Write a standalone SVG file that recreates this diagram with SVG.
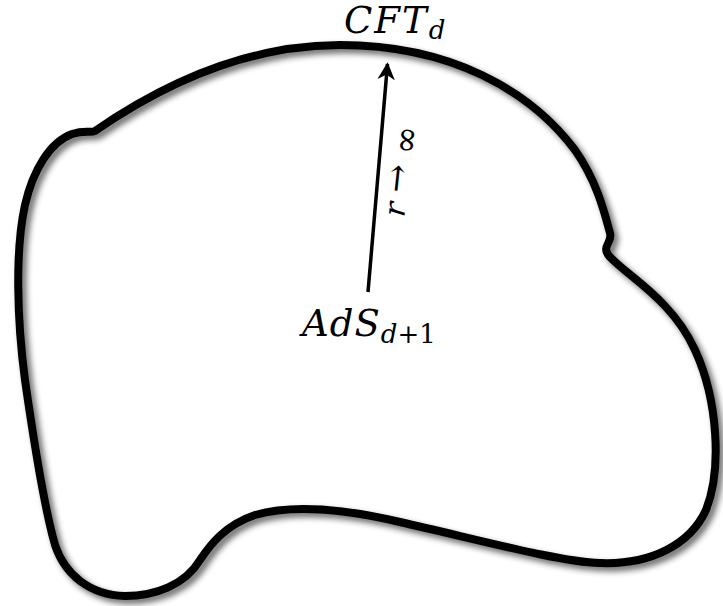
<svg xmlns="http://www.w3.org/2000/svg" width="723" height="606" viewBox="0 0 723 606">
<defs>
<filter id="shadow" x="-10%" y="-10%" width="120%" height="120%">
<feGaussianBlur in="SourceAlpha" stdDeviation="3"/>
<feOffset dx="4" dy="4" result="b"/>
<feComponentTransfer><feFuncA type="linear" slope="0.6"/></feComponentTransfer>
<feMerge><feMergeNode/><feMergeNode in="SourceGraphic"/></feMerge>
</filter>
<marker id="ah" viewBox="0 0 10 10" refX="9" refY="5" markerWidth="5" markerHeight="5" orient="auto" markerUnits="strokeWidth">
<path d="M0,0 L10,5 L0,10 L3,5 Z" fill="#000"/>
</marker>
<style>
.tx{font-family:"DejaVu Serif","Liberation Serif",serif;font-style:italic;fill:#000}
.rm{font-family:"DejaVu Serif","Liberation Serif",serif;font-style:normal;fill:#000}
</style>
</defs>
<rect width="723" height="606" fill="#fff"/>
<g id="boundary" filter="url(#shadow)">
<path d="M95,131 C140,100 230,45 340,45 C450,45 530,90 575,150 C598,183 605,215 610,233 C613,243 600,246 610,257 C630,278 672,300 695,350 C718,400 722,470 706,510 C690,545 650,565 600,563 C560,562 480,540 400,522 C340,508 290,505 255,515 C225,525 210,545 200,560 C185,585 155,596 125,596 C90,595 65,575 55,545 C45,510 35,450 25,380 C17,320 15,250 25,205 C33,170 50,142 72,134 C84,130 91,133 95,131 Z" fill="none" stroke="#000" stroke-width="8" stroke-linejoin="round"/>
</g>
<g id="connectors">
<line x1="368" y1="292" x2="387.5" y2="64" stroke="#000" stroke-width="3.5" marker-end="url(#ah)"/>
</g>
<g id="cft">
<text class="tx" x="344" y="33" font-size="37" letter-spacing="2">CFT<tspan font-size="26" dy="6" letter-spacing="0">d</tspan></text>
</g>
<g id="ads">
<text class="tx" x="302" y="336" font-size="37" letter-spacing="1">AdS<tspan font-size="26" dy="7" letter-spacing="0">d</tspan><tspan class="rm" font-size="26" letter-spacing="0">+1</tspan></text>
</g>
<g id="limit">
<text class="tx" font-size="30" transform="translate(409,172) rotate(-84)" text-anchor="middle">r <tspan class="rm" font-size="34">→</tspan><tspan class="rm" font-size="34" dy="5"> ∞</tspan></text>
</g>
</svg>
